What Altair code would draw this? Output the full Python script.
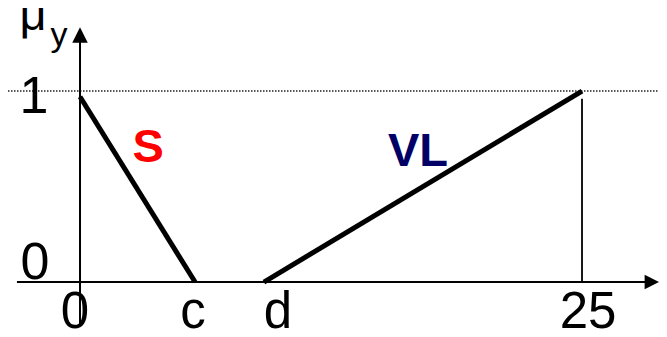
import altair as alt
import pandas as pd

# data values
c_val = 5.73
d_val = 9.16
s_x = [0, c_val]
s_y = [0.97, 0]
vl_x = [d_val, 25]
vl_y = [0, 1]
tick_labels = ["0", "c", "d", "25"]
tick_pos = [-0.25, 5.63, 9.86, 25.3]
ylab_labels = ["1", "0"]
ylab_pos = [0.885, 0.016]
series_names = ["S", "VL"]
series_colors = ["#ff0000", "#000066"]
series_lx = [3.39, 16.83]
series_ly = [0.628, 0.607]

XMIN, XMAX = -3.586, 28.834
YMIN, YMAX = -0.246, 1.435
FONT = "Liberation Sans"

xs = alt.Scale(domain=[XMIN, XMAX], nice=False, zero=False)
ys = alt.Scale(domain=[YMIN, YMAX], nice=False, zero=False)

def X(f="x"):
    return alt.X(f"{f}:Q", scale=xs, axis=None)

def Y(f="y"):
    return alt.Y(f"{f}:Q", scale=ys, axis=None)

def seg(x0, y0, x1, y1):
    return pd.DataFrame({"x": [x0, x1], "y": [y0, y1], "o": [0, 1]})

layers = []

# dotted level line at 1
layers.append(alt.Chart(seg(XMIN, 1, XMAX, 1)).mark_line(
    color="#222222", strokeWidth=1.5, strokeDash=[1.5, 1.5]).encode(x=X(), y=Y(), order="o:O"))

# axes
layers.append(alt.Chart(seg(0, -0.225, 0, 1.3)).mark_line(
    color="black", strokeWidth=2).encode(x=X(), y=Y(), order="o:O"))
layers.append(alt.Chart(seg(-3.14, 0, 28.5, 0)).mark_line(
    color="black", strokeWidth=2).encode(x=X(), y=Y(), order="o:O"))

# arrow heads
layers.append(alt.Chart(pd.DataFrame({"x": [0], "y": [1.293]})).mark_point(
    shape="M-1,1L0,-1L1,1Z", size=240, filled=True, color="black", opacity=1).encode(x=X(), y=Y()))
layers.append(alt.Chart(pd.DataFrame({"x": [28.48], "y": [0]})).mark_point(
    shape="M-1,-1L1,0L-1,1Z", size=210, filled=True, color="black", opacity=1).encode(x=X(), y=Y()))

# vertical line at 25
layers.append(alt.Chart(seg(25, 0, 25, 0.96)).mark_line(
    color="black", strokeWidth=1.8).encode(x=X(), y=Y(), order="o:O"))

# membership functions
layers.append(alt.Chart(pd.DataFrame({"x": s_x, "y": s_y, "o": [0, 1]})).mark_line(
    color="black", strokeWidth=5, strokeCap="butt").encode(x=X(), y=Y(), order="o:O"))
layers.append(alt.Chart(pd.DataFrame({"x": vl_x, "y": vl_y, "o": [0, 1]})).mark_line(
    color="black", strokeWidth=5, strokeCap="butt").encode(x=X(), y=Y(), order="o:O"))

# tick labels on x
layers.append(alt.Chart(pd.DataFrame({"x": tick_pos, "y": [-0.241] * 4, "t": tick_labels})).mark_text(
    font=FONT, fontSize=51, color="black", align="center", baseline="alphabetic").encode(
    x=X(), y=Y(), text="t:N"))

# tick labels on y
layers.append(alt.Chart(pd.DataFrame({"x": [-2.29, -2.24], "y": ylab_pos, "t": ylab_labels})).mark_text(
    font=FONT, fontSize=52, color="black", align="center", baseline="alphabetic").encode(
    x=X(), y=Y(), text="t:N"))

# axis title mu_y
layers.append(alt.Chart(pd.DataFrame({"x": [-2.34], "y": [1.319], "t": ["μ"]})).mark_text(
    font=FONT, fontSize=47, color="black", align="center", baseline="alphabetic").encode(
    x=X(), y=Y(), text="t:N"))
layers.append(alt.Chart(pd.DataFrame({"x": [-1.05], "y": [1.236], "t": ["y"]})).mark_text(
    font=FONT, fontSize=34, color="black", align="center", baseline="alphabetic").encode(
    x=X(), y=Y(), text="t:N"))

# series labels
layers.append(alt.Chart(pd.DataFrame({"x": series_lx, "y": series_ly, "t": series_names, "c": series_colors})).mark_text(
    font=FONT, fontSize=47, fontWeight="bold", align="center", baseline="alphabetic").encode(
    x=X(), y=Y(), text="t:N", color=alt.Color("c:N", scale=None)))

chart = alt.layer(*layers).properties(
    width=651, height=321, padding=0, autosize=alt.AutoSizeParams(type="none"),
    background="white"
).configure_view(stroke=None)

chart.save("out.html", embed_options={"renderer": "svg", "actions": False})
